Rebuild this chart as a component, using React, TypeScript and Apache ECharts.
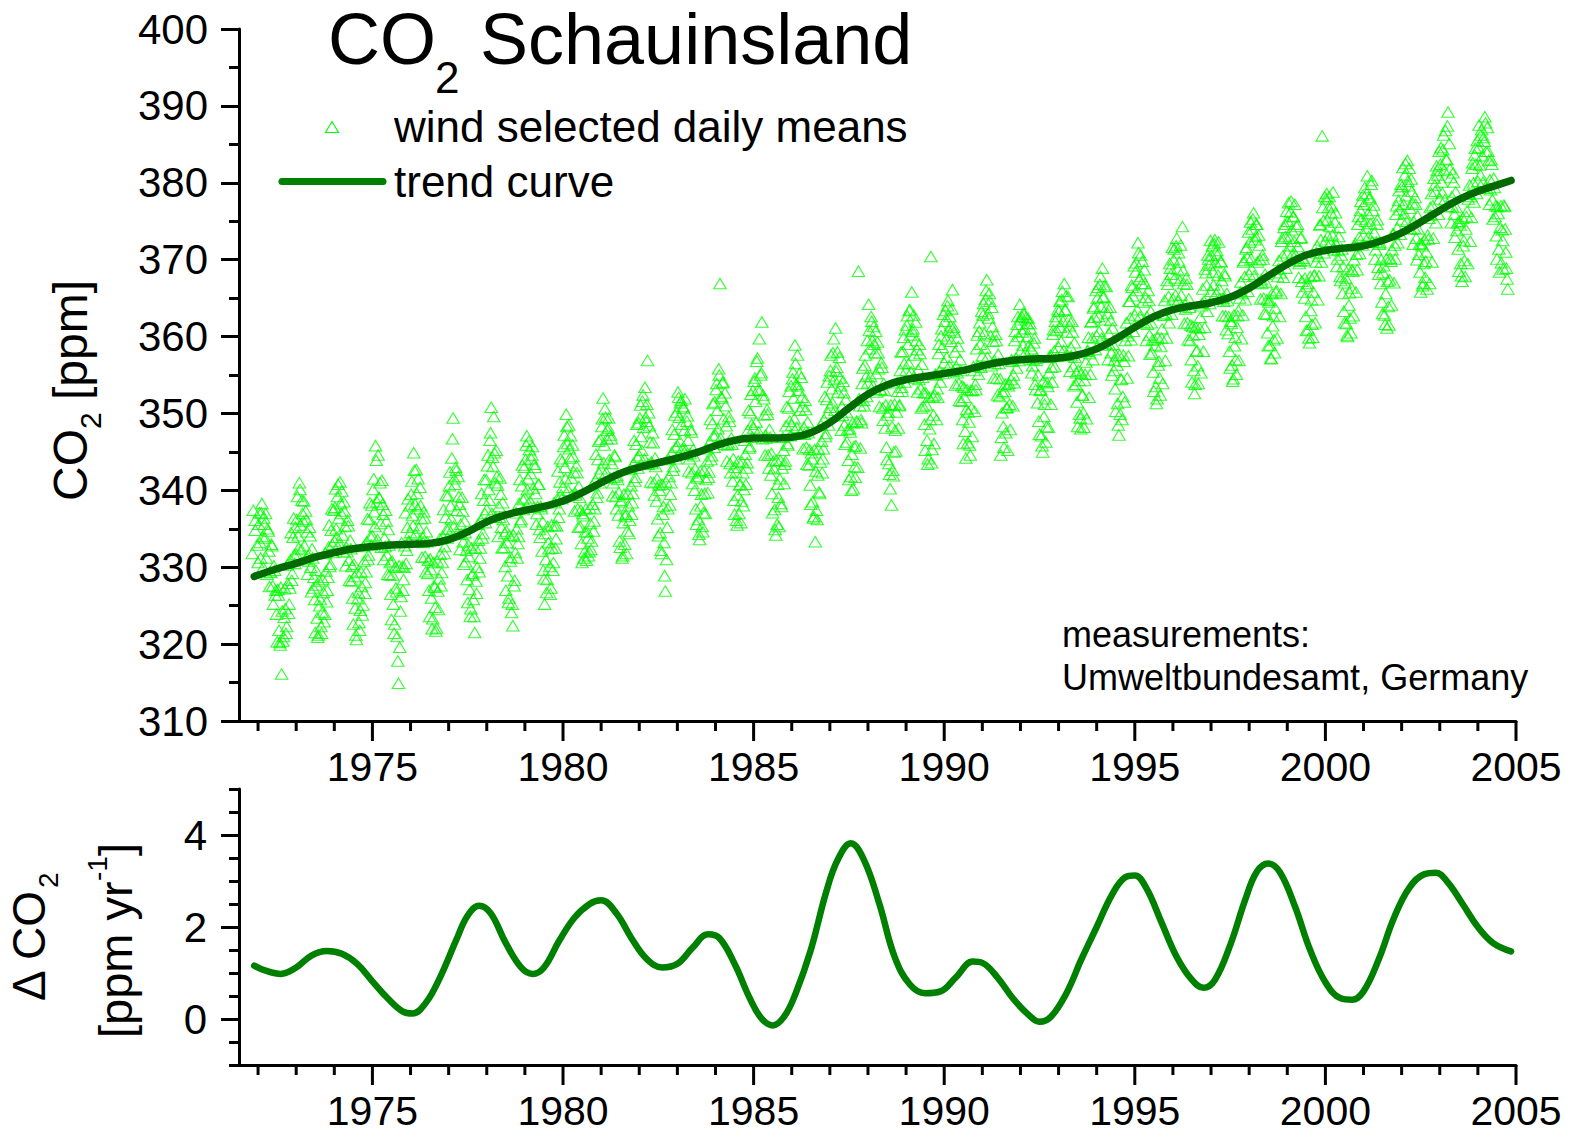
import { useEffect, useRef } from "react";
import * as echarts from "echarts";

const FONT = '"Liberation Sans", Arial, Helvetica, sans-serif';

// ---- axis ranges and tick values ----
const X_MIN = 1971.5;
const X_MAX = 2005;
const CO2_MIN = 310;
const CO2_MAX = 400;
const DELTA_MIN = -1;
const DELTA_MAX = 5;
const YEAR_LABELS = [1975, 1980, 1985, 1990, 1995, 2000, 2005];
const YEAR_MINOR = [
  1972, 1973, 1974, 1976, 1977, 1978, 1979, 1981, 1982, 1983, 1984, 1986, 1987, 1988, 1989,
  1991, 1992, 1993, 1994, 1996, 1997, 1998, 1999, 2001, 2002, 2003, 2004,
];
const DELTA_LABELS = [0, 2, 4];
const DELTA_MINOR = [-1, -0.5, 0.5, 1, 1.5, 2.5, 3, 3.5, 4.5, 5];

// ---- wind selected daily means [ppm], one row per calendar year ----
// first sampling pass
const MEANS_LATE_1971 = [337.4, 334.8, 332.9];

const MEANS_1972_1979 = [
  [335.6, 333.2, 337.1, 334.0, 336.4, 333.8, 331.2, 335.0, 332.1, 329.4, 333.0, 327.6, 330.2, 326.4, 323.9, 327.1, 321.8, 319.9, 316.1, 320.4, 323.5, 324.6, 322.3, 327.9, 325.2, 331.0, 328.3, 333.9, 331.6, 335.2],
  [336.2, 334.1, 341.0, 335.5, 338.7, 336.0, 332.8, 337.3, 334.6, 331.5, 335.2, 330.0, 332.4, 327.3, 325.8, 329.6, 323.4, 321.2, 325.0, 322.3, 324.1, 326.7, 323.9, 329.5, 327.0, 332.6, 330.1, 334.8, 333.0, 337.4],
  [337.8, 335.0, 339.2, 336.4, 341.1, 337.0, 334.2, 338.5, 335.3, 332.6, 336.1, 330.9, 333.5, 328.2, 326.0, 330.4, 324.7, 320.6, 325.9, 322.8, 324.4, 327.5, 325.1, 330.8, 328.0, 333.3, 331.0, 336.2, 334.0, 338.1],
  [340.1, 337.2, 345.8, 338.5, 344.6, 339.0, 335.7, 341.3, 336.9, 333.8, 337.4, 331.6, 334.9, 329.0, 326.5, 330.8, 325.2, 322.6, 327.3, 321.0, 314.9, 319.6, 326.2, 330.1, 328.4, 332.8, 330.5, 335.2, 333.4, 338.0],
  [339.5, 336.8, 344.9, 338.2, 342.7, 337.6, 335.1, 340.4, 336.3, 333.9, 337.2, 331.4, 334.6, 329.2, 327.0, 331.1, 326.0, 323.3, 327.6, 324.8, 322.1, 326.9, 328.5, 331.7, 329.3, 334.0, 331.8, 336.5, 334.9, 339.3],
  [340.6, 338.0, 344.2, 349.4, 341.5, 343.0, 337.4, 341.8, 338.2, 335.6, 339.1, 333.3, 336.0, 330.7, 328.4, 332.9, 327.1, 324.6, 329.0, 325.8, 321.5, 328.2, 330.0, 333.5, 331.2, 336.1, 333.8, 338.7, 337.0, 341.4],
  [343.2, 340.1, 346.5, 350.8, 344.3, 349.6, 341.0, 345.2, 340.7, 337.9, 341.6, 335.2, 338.4, 332.6, 330.1, 334.7, 328.9, 326.0, 330.8, 324.1, 322.4, 327.6, 331.9, 335.0, 333.1, 338.3, 335.9, 340.6, 338.8, 343.0],
  [344.0, 347.1, 341.5, 345.3, 342.2, 344.6, 340.3, 343.4, 339.6, 337.0, 340.8, 334.9, 337.9, 332.1, 329.6, 325.2, 331.0, 328.4, 333.2, 330.1, 327.3, 332.5, 330.6, 335.4, 333.7, 338.9, 336.5, 341.1, 339.4, 343.8],
];

const MEANS_1980_1989 = [
  [345.7, 343.0, 349.9, 346.1, 348.5, 344.2, 341.6, 345.9, 342.4, 339.7, 343.2, 337.6, 340.5, 335.3, 333.1, 337.0, 331.2, 334.6, 330.9, 333.8, 332.0, 335.7, 333.4, 338.2, 336.0, 341.3, 339.1, 344.0, 342.2, 346.6],
  [348.3, 352.0, 345.9, 349.5, 346.7, 348.1, 344.0, 347.2, 343.5, 341.0, 344.6, 339.2, 341.9, 336.8, 333.4, 338.5, 331.2, 335.8, 333.0, 336.9, 334.7, 338.0, 336.1, 340.6, 338.4, 343.5, 341.2, 346.0, 344.3, 348.8],
  [349.4, 347.0, 351.6, 348.2, 353.4, 349.0, 356.9, 350.1, 346.3, 343.7, 347.5, 341.0, 344.2, 338.6, 336.3, 340.7, 334.5, 331.8, 336.9, 333.2, 326.9, 331.0, 337.6, 341.8, 339.5, 344.9, 342.6, 347.3, 345.6, 350.2],
  [352.8, 349.5, 351.4, 348.6, 350.9, 347.8, 345.2, 349.0, 346.5, 344.1, 347.9, 342.3, 345.3, 340.0, 337.6, 341.8, 336.2, 333.6, 338.0, 335.3, 337.1, 339.6, 341.4, 343.8, 341.7, 346.3, 344.0, 348.7, 347.1, 351.5],
  [353.1, 350.4, 355.8, 366.9, 352.2, 354.0, 349.3, 352.7, 348.4, 345.9, 349.6, 343.5, 346.8, 341.2, 338.7, 343.0, 336.1, 339.4, 337.0, 340.8, 338.6, 342.3, 340.1, 344.7, 342.9, 347.8, 345.5, 350.1, 348.6, 353.0],
  [354.2, 351.6, 356.8, 353.1, 359.7, 355.0, 361.9, 352.4, 349.8, 347.2, 350.5, 344.6, 347.9, 342.0, 339.6, 343.8, 337.5, 334.2, 335.6, 339.1, 341.5, 338.3, 342.9, 345.2, 343.4, 348.4, 346.1, 350.7, 349.0, 353.6],
  [354.5, 352.0, 358.9, 353.8, 357.6, 353.0, 350.4, 354.7, 350.9, 348.2, 351.7, 345.6, 348.9, 343.3, 340.7, 344.9, 338.5, 336.6, 333.3, 337.4, 342.0, 339.8, 343.7, 346.4, 344.1, 349.2, 347.0, 351.8, 350.1, 354.9],
  [355.6, 353.2, 357.9, 354.4, 361.1, 356.0, 352.8, 357.3, 353.6, 350.9, 354.2, 348.5, 351.8, 346.3, 343.9, 348.0, 341.8, 344.7, 340.2, 343.1, 345.8, 348.9, 368.5, 351.0, 349.2, 353.9, 351.7, 356.3, 354.8, 359.5],
  [364.2, 358.4, 362.6, 359.5, 361.3, 357.9, 355.2, 359.3, 355.8, 353.1, 356.6, 350.7, 353.9, 348.1, 345.6, 349.8, 343.5, 340.2, 338.1, 342.6, 345.0, 347.8, 350.2, 352.9, 351.0, 355.6, 353.4, 358.1, 356.5, 360.9],
  [361.5, 359.0, 363.4, 360.2, 365.8, 361.0, 357.6, 361.9, 358.3, 355.7, 359.0, 353.2, 356.4, 350.9, 348.6, 352.7, 346.5, 344.1, 348.0, 370.4, 345.3, 349.8, 352.4, 355.0, 353.2, 357.8, 355.5, 360.1, 358.6, 362.9],
];

const MEANS_1990_1999 = [
  [362.0, 359.7, 364.0, 360.8, 362.6, 359.4, 366.1, 361.2, 358.0, 356.1, 359.8, 353.9, 357.0, 351.6, 349.2, 353.4, 347.7, 350.5, 346.2, 348.9, 344.6, 350.7, 353.0, 355.6, 353.8, 358.4, 356.2, 360.7, 359.0, 363.3],
  [362.8, 360.4, 364.9, 367.4, 363.0, 365.6, 360.1, 363.8, 359.4, 356.9, 360.3, 354.6, 357.7, 352.2, 344.6, 350.1, 348.3, 352.9, 347.5, 350.8, 353.6, 351.2, 354.4, 356.8, 355.0, 359.5, 357.2, 361.6, 360.0, 364.2],
  [362.2, 360.6, 363.1, 361.0, 362.5, 360.0, 358.8, 361.7, 358.4, 356.2, 359.2, 353.8, 356.9, 351.4, 349.0, 353.0, 347.1, 345.0, 349.6, 351.9, 348.3, 353.5, 355.3, 357.6, 356.0, 360.3, 358.1, 362.0, 360.8, 363.5],
  [363.3, 361.2, 364.8, 362.0, 366.9, 363.5, 360.6, 365.2, 361.4, 358.6, 362.0, 356.1, 359.2, 353.8, 351.5, 355.6, 349.9, 348.0, 352.4, 350.1, 354.3, 356.7, 358.1, 359.9, 357.8, 361.9, 359.8, 363.7, 362.5, 366.0],
  [365.0, 362.6, 366.8, 363.9, 368.9, 365.2, 362.2, 366.5, 363.0, 360.4, 363.8, 357.9, 361.1, 355.6, 353.2, 357.5, 351.3, 347.2, 349.9, 354.4, 352.2, 356.8, 359.5, 361.8, 360.1, 364.6, 362.4, 366.7, 365.3, 369.2],
  [368.4, 366.0, 372.2, 367.5, 370.6, 366.9, 364.5, 368.7, 365.1, 362.6, 366.0, 360.2, 363.3, 357.9, 355.4, 359.6, 353.5, 351.9, 356.3, 354.6, 358.7, 361.0, 362.8, 364.7, 363.0, 367.3, 365.2, 369.5, 368.1, 371.6],
  [370.0, 367.6, 371.8, 368.8, 370.9, 367.3, 365.4, 374.3, 366.9, 364.2, 367.6, 361.8, 364.9, 359.5, 357.0, 361.3, 355.6, 353.8, 358.1, 356.2, 360.3, 362.5, 364.0, 366.2, 364.6, 368.8, 366.7, 370.6, 369.3, 372.5],
  [370.5, 368.4, 372.1, 369.6, 371.2, 368.0, 366.2, 369.8, 367.3, 365.0, 368.2, 362.7, 365.6, 360.4, 358.1, 362.0, 356.3, 354.5, 358.8, 357.0, 361.2, 363.4, 365.0, 367.1, 365.6, 369.7, 367.8, 371.4, 370.3, 373.6],
  [372.3, 370.1, 374.0, 376.1, 372.6, 374.6, 369.7, 373.2, 370.0, 367.4, 370.6, 365.0, 368.1, 362.9, 360.5, 364.5, 358.9, 357.1, 361.4, 359.6, 363.7, 366.0, 367.8, 369.9, 368.3, 372.4, 370.5, 374.2, 373.0, 376.3],
  [375.0, 372.8, 376.2, 373.9, 375.6, 372.4, 370.6, 374.3, 371.7, 369.5, 372.8, 367.2, 370.2, 365.0, 362.6, 366.5, 360.9, 359.2, 363.4, 361.6, 365.8, 368.0, 369.7, 371.8, 370.4, 374.5, 372.6, 386.1, 375.1, 378.2],
];

const MEANS_2000_2003 = [
  [377.9, 375.2, 376.8, 374.3, 376.1, 373.2, 371.6, 374.9, 372.0, 370.1, 373.0, 367.8, 370.6, 365.6, 363.3, 367.0, 361.7, 360.0, 364.1, 362.4, 366.3, 368.5, 370.0, 372.1, 370.7, 374.6, 372.9, 376.4, 375.3, 378.4],
  [377.2, 375.0, 378.6, 376.0, 377.9, 374.7, 380.3, 376.4, 373.5, 371.3, 374.6, 369.0, 372.0, 366.9, 364.5, 368.3, 362.8, 365.6, 361.1, 363.9, 367.4, 369.8, 371.3, 373.4, 371.9, 375.9, 374.1, 377.7, 376.5, 379.8],
  [379.5, 377.2, 381.0, 378.3, 382.9, 379.6, 376.7, 380.5, 377.4, 375.0, 378.1, 372.8, 375.7, 370.7, 368.4, 372.1, 366.6, 369.5, 367.7, 371.0, 373.2, 375.4, 376.8, 378.6, 377.0, 380.6, 378.9, 382.2, 381.0, 384.1],
  [382.4, 380.1, 384.3, 381.6, 386.8, 383.0, 389.2, 385.1, 380.7, 378.2, 381.3, 375.9, 378.8, 373.8, 371.4, 375.0, 369.5, 367.2, 371.8, 369.9, 374.0, 376.3, 377.9, 379.7, 378.2, 381.9, 380.0, 383.6, 382.4, 385.5],
];

// January to mid-October 2004
const MEANS_2004 = [384.6, 382.3, 386.2, 383.5, 385.9, 388.6, 384.1, 387.2, 382.9, 380.4, 383.0, 377.8, 380.6, 375.6, 373.1, 376.9, 371.4, 374.2, 369.6, 372.5, 377.1, 374.0, 368.9, 366.2];

// second sampling pass, half a step later than the first
const LATER_LATE_1971 = [331.8, 336.1];

const LATER_1972_1979 = [
  [330.6, 337.1, 331.2, 338.3, 330.0, 335.6, 337.0, 329.1, 334.7, 327.5, 329.3, 332.8, 325.2, 329.6, 327.0, 320.3, 326.4, 320.2, 327.4, 324.3, 321.0, 327.2, 321.4, 330.3, 324.0, 327.3, 334.5, 329.2, 336.4, 330.5],
  [331.7, 339.2, 332.5, 340.1, 332.3, 337.0, 338.6, 331.0, 336.2, 329.1, 330.8, 334.1, 326.8, 331.2, 328.7, 321.5, 327.7, 320.9, 328.2, 325.8, 321.4, 328.4, 322.9, 331.8, 325.5, 328.7, 335.5, 330.4, 337.6, 331.9],
  [333.4, 340.2, 333.9, 340.8, 333.0, 338.3, 339.9, 332.0, 337.3, 330.2, 332.0, 335.4, 328.3, 332.4, 330.1, 322.6, 328.8, 321.2, 329.3, 326.7, 321.8, 329.4, 323.8, 332.7, 326.6, 329.4, 336.3, 331.6, 338.4, 332.9],
  [334.1, 341.5, 335.3, 343.9, 333.6, 339.1, 341.0, 332.6, 338.2, 331.0, 332.7, 336.0, 329.1, 332.9, 330.6, 323.2, 329.0, 321.4, 330.0, 326.8, 317.8, 330.2, 324.3, 333.2, 327.0, 330.0, 337.1, 332.2, 338.9, 333.3],
  [334.5, 341.2, 335.4, 342.6, 334.3, 339.6, 341.5, 333.4, 338.0, 331.3, 333.2, 336.4, 329.4, 333.3, 330.9, 323.6, 329.7, 322.0, 330.6, 327.4, 321.7, 330.8, 324.5, 333.7, 327.6, 330.6, 337.5, 332.7, 339.4, 333.8],
  [335.0, 342.4, 336.3, 346.7, 335.3, 340.8, 342.6, 334.4, 339.2, 332.3, 334.3, 337.3, 330.4, 334.5, 332.2, 325.4, 331.4, 323.6, 332.5, 329.2, 323.6, 332.5, 326.6, 335.6, 329.4, 332.5, 339.6, 334.4, 341.4, 335.8],
  [337.5, 344.6, 338.7, 347.5, 337.0, 343.1, 344.9, 336.5, 341.8, 334.0, 336.5, 339.5, 332.5, 336.2, 334.4, 327.0, 333.2, 325.4, 334.1, 331.3, 325.2, 334.2, 328.3, 337.1, 331.2, 334.0, 341.4, 336.2, 343.3, 337.5],
  [339.0, 345.9, 340.1, 346.4, 338.6, 344.1, 345.7, 337.8, 343.0, 335.6, 337.9, 340.8, 333.9, 337.6, 335.9, 328.5, 334.4, 326.7, 335.3, 332.4, 326.5, 335.5, 329.6, 338.4, 332.5, 335.4, 342.5, 337.6, 344.1, 338.9],
];

const LATER_1980_1989 = [
  [340.4, 347.2, 341.5, 348.3, 340.0, 345.4, 347.1, 339.4, 344.4, 337.3, 339.4, 342.3, 335.2, 339.1, 337.4, 330.6, 336.7, 332.0, 337.6, 334.6, 331.5, 337.7, 332.3, 340.6, 334.7, 337.6, 344.7, 339.7, 346.4, 341.0],
  [342.8, 349.3, 343.6, 350.6, 342.3, 347.8, 349.4, 341.6, 346.7, 339.3, 341.7, 344.4, 337.6, 341.4, 339.7, 332.6, 338.7, 331.5, 339.5, 336.6, 331.8, 339.6, 334.4, 342.7, 336.9, 339.6, 346.5, 341.7, 348.6, 342.9],
  [344.5, 351.1, 345.2, 352.4, 344.1, 349.5, 351.2, 343.4, 348.4, 341.1, 343.5, 346.2, 339.4, 343.1, 341.5, 334.1, 340.0, 332.2, 340.8, 337.9, 328.9, 341.1, 335.2, 344.0, 338.1, 341.0, 347.9, 343.1, 349.8, 344.1],
  [345.8, 352.1, 346.4, 351.7, 345.4, 350.7, 351.9, 344.7, 349.7, 342.5, 344.8, 347.6, 340.9, 344.5, 342.8, 335.6, 341.6, 334.3, 342.5, 339.5, 334.6, 342.6, 337.0, 345.4, 339.7, 342.4, 349.2, 344.5, 351.3, 345.6],
  [347.2, 353.9, 348.0, 355.0, 346.8, 352.0, 354.1, 346.0, 351.0, 343.8, 346.2, 349.0, 342.3, 346.0, 344.1, 336.9, 342.4, 335.5, 343.8, 340.7, 335.8, 343.7, 338.0, 346.5, 340.8, 343.6, 350.4, 345.7, 352.5, 346.9],
  [348.1, 354.6, 348.9, 357.2, 347.6, 353.0, 355.3, 346.7, 351.9, 344.6, 346.8, 349.9, 342.9, 346.9, 344.8, 337.1, 342.8, 334.9, 343.9, 340.8, 335.3, 343.9, 337.9, 346.9, 340.9, 343.8, 350.9, 345.9, 352.9, 347.1],
  [348.5, 355.4, 349.3, 356.5, 348.2, 353.6, 355.2, 347.4, 352.1, 345.4, 347.3, 350.5, 343.4, 347.5, 345.3, 338.2, 344.1, 336.4, 345.3, 342.5, 336.2, 345.4, 339.6, 348.5, 342.3, 345.4, 352.2, 347.4, 354.1, 348.5],
  [350.8, 357.6, 351.4, 359.7, 350.4, 355.5, 358.0, 349.7, 354.6, 347.8, 349.8, 352.7, 346.0, 350.2, 347.9, 341.4, 347.6, 340.0, 348.8, 345.7, 341.7, 349.0, 343.0, 351.9, 345.5, 348.8, 355.9, 351.0, 357.6, 352.2],
  [354.0, 360.8, 354.8, 362.0, 353.6, 359.0, 360.7, 352.8, 357.9, 350.9, 353.1, 356.0, 349.1, 353.0, 351.1, 344.0, 350.2, 342.1, 351.1, 348.3, 341.9, 351.2, 345.1, 354.0, 348.1, 351.1, 358.0, 352.9, 359.9, 354.1],
  [355.6, 362.7, 356.5, 363.5, 355.4, 360.7, 362.8, 354.6, 359.5, 352.8, 354.4, 357.8, 350.7, 354.7, 352.7, 345.2, 351.1, 343.4, 352.1, 349.2, 343.6, 352.2, 346.1, 355.1, 349.2, 352.1, 359.0, 354.1, 361.0, 355.2],
];

const LATER_1990_1999 = [
  [356.6, 363.4, 357.3, 364.7, 356.2, 361.4, 363.6, 355.5, 360.6, 353.7, 355.3, 358.7, 351.7, 355.6, 353.6, 346.1, 352.1, 344.2, 353.1, 350.2, 345.9, 353.0, 347.0, 356.1, 350.3, 353.1, 360.2, 355.1, 361.8, 356.0],
  [357.5, 364.3, 358.5, 366.0, 357.3, 362.4, 364.6, 356.2, 361.3, 354.6, 356.5, 359.5, 352.4, 356.5, 354.5, 346.9, 352.7, 345.6, 353.8, 350.7, 345.2, 353.9, 347.9, 357.0, 351.0, 354.0, 360.7, 355.9, 362.6, 356.9],
  [358.1, 362.6, 358.9, 362.9, 357.9, 361.7, 362.4, 357.1, 361.0, 355.3, 357.0, 359.8, 353.1, 357.2, 355.0, 347.3, 353.1, 345.8, 354.2, 351.2, 346.3, 354.0, 348.2, 357.3, 351.2, 354.1, 360.9, 356.1, 362.6, 357.4],
  [358.6, 364.6, 359.4, 365.9, 358.2, 363.5, 365.3, 357.6, 362.2, 355.5, 357.5, 360.6, 353.6, 357.3, 355.3, 348.3, 354.3, 349.4, 355.2, 352.4, 348.2, 355.1, 349.3, 358.2, 352.1, 355.1, 362.0, 357.0, 363.9, 358.3],
  [360.1, 366.4, 360.7, 367.8, 359.8, 365.1, 366.6, 359.1, 363.8, 357.0, 358.9, 362.1, 355.0, 359.0, 356.9, 350.3, 356.3, 348.5, 357.6, 354.5, 349.2, 357.6, 351.5, 360.5, 354.6, 357.5, 364.6, 359.6, 366.4, 360.7],
  [362.8, 369.6, 363.5, 370.9, 362.6, 367.8, 369.8, 361.8, 366.9, 359.5, 361.6, 364.7, 357.7, 361.8, 359.6, 352.9, 358.9, 351.3, 359.9, 356.8, 352.4, 359.8, 353.9, 362.8, 356.9, 359.8, 366.8, 361.8, 368.9, 362.9],
  [364.9, 371.4, 365.4, 372.8, 364.6, 369.7, 371.9, 363.9, 368.6, 361.7, 363.6, 366.8, 359.6, 363.8, 361.5, 354.1, 360.2, 352.6, 361.2, 358.2, 353.9, 361.1, 355.3, 364.3, 358.1, 361.2, 368.3, 363.3, 370.1, 364.3],
  [365.9, 371.8, 366.7, 372.6, 365.6, 370.6, 372.3, 364.9, 369.7, 362.7, 364.6, 367.9, 360.9, 364.7, 362.6, 355.9, 361.7, 354.2, 362.8, 359.9, 355.1, 362.7, 356.9, 365.8, 359.7, 362.8, 369.9, 364.8, 371.6, 365.9],
  [368.1, 374.9, 368.8, 375.3, 367.9, 373.0, 374.6, 367.0, 371.9, 364.9, 366.9, 370.1, 363.0, 367.1, 364.8, 358.8, 364.7, 357.2, 365.6, 362.7, 357.9, 365.8, 359.8, 368.8, 362.6, 365.6, 372.8, 367.7, 374.6, 368.9],
  [370.9, 377.4, 371.8, 377.6, 370.7, 375.6, 377.2, 369.9, 374.6, 367.7, 369.8, 372.9, 365.8, 369.9, 367.6, 360.8, 366.9, 359.8, 367.8, 364.8, 359.9, 367.9, 361.8, 370.9, 364.8, 367.9, 374.6, 369.7, 376.8, 370.9],
];

const LATER_2000_2003 = [
  [372.4, 378.6, 373.1, 378.2, 372.2, 377.0, 378.8, 371.3, 376.1, 369.1, 371.2, 374.2, 367.3, 371.4, 369.1, 361.8, 367.6, 360.2, 368.8, 365.7, 360.5, 368.7, 362.7, 371.8, 365.8, 368.7, 375.6, 370.8, 377.6, 371.9],
  [373.2, 379.4, 374.1, 380.9, 373.0, 378.1, 379.8, 372.3, 377.1, 370.1, 372.3, 375.2, 368.1, 372.2, 370.0, 363.0, 369.2, 361.6, 370.1, 367.2, 361.5, 370.2, 364.1, 373.3, 367.0, 370.1, 377.0, 372.2, 379.0, 373.3],
  [375.2, 382.0, 376.0, 382.5, 375.0, 380.2, 381.9, 374.0, 378.9, 372.0, 374.1, 377.2, 370.0, 374.0, 372.0, 365.8, 371.8, 366.9, 372.6, 369.8, 366.2, 372.7, 366.9, 375.8, 369.7, 372.8, 379.7, 374.8, 381.6, 375.9],
  [377.9, 384.6, 378.7, 386.2, 377.8, 383.1, 387.4, 376.9, 381.8, 374.8, 376.9, 380.1, 372.9, 376.8, 374.8, 368.5, 374.5, 367.9, 375.4, 372.5, 367.8, 375.6, 369.5, 378.5, 372.4, 375.5, 382.6, 377.5, 384.5, 378.6],
];

const LATER_2004 = [380.2, 387.5, 381.0, 386.9, 380.1, 385.4, 387.8, 379.3, 384.1, 377.2, 379.1, 382.4, 375.3, 379.4, 377.0, 370.1, 376.0, 368.4, 377.0, 373.9, 368.8, 376.9, 371.0, 367.5];

// ---- trend curve [ppm] ----
const TREND_YEARS = [
  1971.9, 1972.5, 1973, 1973.5, 1974, 1974.5, 1975, 1975.5, 1976, 1976.5, 1977, 1977.5, 1978, 1978.5,
  1979, 1979.5, 1980, 1980.5, 1981, 1981.5, 1982, 1982.5, 1983, 1983.5, 1984, 1984.5, 1985, 1985.5,
  1986, 1986.5, 1987, 1987.5, 1988, 1988.5, 1989, 1989.5, 1990, 1990.5, 1991, 1991.5, 1992, 1992.5,
  1993, 1993.5, 1994, 1994.5, 1995, 1995.5, 1996, 1996.5, 1997, 1997.5, 1998, 1998.5, 1999, 1999.5,
  2000, 2000.5, 2001, 2001.5, 2002, 2002.5, 2003, 2003.5, 2004, 2004.5, 2004.87,
];
const TREND_VALUES = [
  328.8, 329.8, 330.5, 331.3, 331.9, 332.4, 332.7, 332.9, 333.0, 333.1, 333.6, 334.6, 335.9, 336.8,
  337.4, 337.9, 338.6, 339.7, 341.0, 342.2, 343.0, 343.6, 344.2, 344.9, 345.8, 346.5, 346.8, 346.8,
  346.9, 347.5, 348.8, 350.7, 352.5, 353.7, 354.4, 354.8, 355.2, 355.6, 356.2, 356.7, 357.0, 357.1,
  357.2, 357.6, 358.4, 359.7, 361.2, 362.6, 363.5, 364.0, 364.4, 365.1, 366.3, 367.9, 369.4, 370.6,
  371.2, 371.5, 371.8, 372.5, 373.5, 374.9, 376.4, 377.8, 378.9, 379.7, 380.3,
];

// ---- growth rate of the trend [ppm/yr] ----
const DELTA_YEARS = [
  1971.9, 1972.2, 1972.6, 1973, 1973.4, 1973.8, 1974.2, 1974.6, 1975, 1975.4, 1975.8, 1976.05, 1976.4,
  1976.8, 1977.2, 1977.5, 1977.8, 1978.1, 1978.5, 1978.9, 1979.2, 1979.5, 1979.9, 1980.3, 1980.7, 1981,
  1981.4, 1981.8, 1982.2, 1982.6, 1983, 1983.4, 1983.8, 1984.1, 1984.5, 1984.9, 1985.2, 1985.5, 1985.8,
  1986.1, 1986.5, 1986.9, 1987.2, 1987.55, 1987.9, 1988.3, 1988.7, 1989.1, 1989.5, 1989.9, 1990.3,
  1990.75, 1991, 1991.4, 1991.8, 1992.2, 1992.5, 1992.8, 1993.2, 1993.6, 1994, 1994.4, 1994.75, 1995,
  1995.3, 1995.7, 1996.1, 1996.5, 1996.8, 1997.1, 1997.5, 1997.9, 1998.2, 1998.5, 1998.8, 1999.2,
  1999.6, 2000, 2000.4, 2000.7, 2001, 2001.4, 2001.8, 2002.2, 2002.6, 2002.9, 2003.2, 2003.6, 2004,
  2004.4, 2004.87,
];
const DELTA_VALUES = [
  1.16, 1.05, 0.98, 1.12, 1.38, 1.48, 1.42, 1.2, 0.82, 0.45, 0.16, 0.12, 0.35,
  0.95, 1.72, 2.25, 2.46, 2.3, 1.65, 1.12, 0.98, 1.12, 1.7, 2.2, 2.5, 2.58,
  2.3, 1.75, 1.3, 1.12, 1.2, 1.55, 1.84, 1.76, 1.2, 0.45, 0.02, -0.14, 0.05,
  0.55, 1.5, 2.75, 3.45, 3.82, 3.45, 2.5, 1.35, 0.75, 0.56, 0.6, 0.9,
  1.25, 1.22, 0.9, 0.45, 0.1, -0.06, 0.05, 0.55, 1.3, 2.0, 2.7, 3.08, 3.12,
  2.85, 2.1, 1.35, 0.85, 0.68, 0.85, 1.6, 2.6, 3.2, 3.38, 3.2, 2.45,
  1.5, 0.8, 0.45, 0.42, 0.6, 1.3, 2.2, 2.85, 3.15, 3.18, 2.98, 2.5, 2.0,
  1.65, 1.47,
];

type Block = { start: number; span: number; phase: number; values: number[] };

const yearBlocks = (firstYear: number, rows: number[][], phase: number): Block[] =>
  rows.map((values, k) => ({ start: firstYear + k, span: 1, phase, values }));

const BLOCKS: Block[] = [
  { start: 1971.85, span: 0.15, phase: 0.5, values: MEANS_LATE_1971 },
  ...yearBlocks(1972, MEANS_1972_1979, 0.5),
  ...yearBlocks(1980, MEANS_1980_1989, 0.5),
  ...yearBlocks(1990, MEANS_1990_1999, 0.5),
  ...yearBlocks(2000, MEANS_2000_2003, 0.5),
  { start: 2004, span: 0.8, phase: 0.5, values: MEANS_2004 },
  { start: 1971.85, span: 0.15, phase: 0, values: LATER_LATE_1971 },
  ...yearBlocks(1972, LATER_1972_1979, 0),
  ...yearBlocks(1980, LATER_1980_1989, 0),
  ...yearBlocks(1990, LATER_1990_1999, 0),
  ...yearBlocks(2000, LATER_2000_2003, 0),
  { start: 2004, span: 0.8, phase: 0, values: LATER_2004 },
];

// sample dates spread evenly over each block
const dailyPoints = BLOCKS.flatMap((b) =>
  b.values.map((v, i) => [b.start + ((i + b.phase) * b.span) / b.values.length, v])
);
const trendPoints = TREND_YEARS.map((t, i) => [t, TREND_VALUES[i]]);
const deltaPoints = DELTA_YEARS.map((t, i) => [t, DELTA_VALUES[i]]);

// year ticks (1 = labelled, 0 = unlabelled) for the two time axes
const yearTicks = [...YEAR_LABELS.map((y) => [y, 1]), ...YEAR_MINOR.map((y) => [y, 0])];

const BLACK = "#000000";
const AXIS_W = 3;

const timeAxis = (gridIndex: number) => ({
  type: "value",
  gridIndex,
  min: X_MIN,
  max: X_MAX,
  position: "bottom",
  axisLine: { show: true, onZero: false, lineStyle: { color: BLACK, width: AXIS_W } },
  axisTick: { show: false },
  axisLabel: {
    customValues: YEAR_LABELS,
    formatter: (v: number) => String(Math.round(v)),
    fontSize: 41,
    fontFamily: FONT,
    color: BLACK,
    margin: 25,
  },
  splitLine: { show: false },
});

// tick marks below a time axis, placed through the axis scale
const yearTickSeries = (axisIndex: number, yBase: number) => ({
  type: "custom",
  xAxisIndex: axisIndex,
  yAxisIndex: axisIndex,
  data: yearTicks,
  clip: false,
  silent: true,
  z: 5,
  renderItem: (_params: any, api: any) => {
    const p = api.coord([api.value(0), yBase]);
    const len = api.value(1) ? 20 : 10;
    return {
      type: "line",
      shape: { x1: p[0], y1: p[1], x2: p[0], y2: p[1] + len },
      style: { stroke: BLACK, lineWidth: AXIS_W },
    };
  },
});

const txt = (text: string, x: number, y: number, size: number) => ({
  type: "text",
  x,
  y,
  style: {
    text,
    font: `${size}px ${FONT}`,
    fill: BLACK,
    align: "left",
    verticalAlign: "middle",
    textAlign: "left",
    textVerticalAlign: "middle",
  },
});

// a text run that reads upwards, anchored at its start (bottom) point
const vertical = (x: number, y: number, children: any[]) => ({
  type: "group",
  x,
  y,
  rotation: Math.PI / 2,
  children,
});

export default function App() {
  const ref = useRef<HTMLDivElement>(null);

  useEffect(() => {
    if (!ref.current) return;
    const chart = echarts.init(ref.current, undefined, { renderer: "svg" });

    chart.setOption({
      animation: false,
      backgroundColor: "#ffffff",
      grid: [
        { left: 239, right: 58, top: 29, height: 692, containLabel: false, outerBoundsMode: "none" },
        { left: 239, right: 58, top: 789, height: 276, containLabel: false, outerBoundsMode: "none" },
      ],
      xAxis: [timeAxis(0), timeAxis(1)],
      yAxis: [
        {
          type: "value",
          gridIndex: 0,
          position: "left",
          min: CO2_MIN,
          max: CO2_MAX,
          interval: 10,
          axisLine: { show: true, onZero: false, lineStyle: { color: BLACK, width: AXIS_W } },
          axisTick: { show: true, length: 18, lineStyle: { color: BLACK, width: AXIS_W } },
          minorTick: { show: true, splitNumber: 2, length: 10, lineStyle: { color: BLACK, width: AXIS_W } },
          axisLabel: { fontSize: 42, fontFamily: FONT, color: BLACK, margin: 31 },
          splitLine: { show: false },
          minorSplitLine: { show: false },
        },
        {
          type: "value",
          gridIndex: 1,
          position: "left",
          min: DELTA_MIN,
          max: DELTA_MAX,
          axisLine: { show: true, onZero: false, lineStyle: { color: BLACK, width: AXIS_W } },
          axisTick: { show: true, length: 18, customValues: DELTA_LABELS, lineStyle: { color: BLACK, width: AXIS_W } },
          axisLabel: { customValues: DELTA_LABELS, fontSize: 42, fontFamily: FONT, color: BLACK, margin: 32 },
          splitLine: { show: false },
        },
        {
          type: "value",
          gridIndex: 1,
          position: "left",
          offset: 0,
          min: DELTA_MIN,
          max: DELTA_MAX,
          axisLine: { show: false, onZero: false },
          axisTick: { show: true, length: 10, customValues: DELTA_MINOR, lineStyle: { color: BLACK, width: AXIS_W } },
          axisLabel: { show: false },
          splitLine: { show: false },
        },
      ],
      series: [
        {
          name: "wind selected daily means",
          type: "scatter",
          xAxisIndex: 0,
          yAxisIndex: 0,
          data: dailyPoints,
          symbol: "triangle",
          symbolSize: [12.5, 10.5],
          itemStyle: { color: "rgba(0,0,0,0)", borderColor: "#00ff00", borderWidth: 1.1 },
          progressive: 0,
          large: false,
          silent: true,
          z: 2,
        },
        {
          name: "trend curve",
          type: "line",
          xAxisIndex: 0,
          yAxisIndex: 0,
          data: trendPoints,
          smooth: 0.4,
          showSymbol: false,
          lineStyle: { color: "#006a00", width: 7.5, cap: "round", join: "round" },
          silent: true,
          z: 3,
        },
        {
          name: "growth rate",
          type: "line",
          xAxisIndex: 1,
          yAxisIndex: 1,
          data: deltaPoints,
          smooth: 0.4,
          showSymbol: false,
          lineStyle: { color: "#008000", width: 6.5, cap: "round", join: "round" },
          silent: true,
          z: 3,
        },
        yearTickSeries(0, CO2_MIN),
        yearTickSeries(1, DELTA_MIN),
      ],
      graphic: {
        elements: [
          // title
          txt("CO", 328, 39, 72),
          txt("2", 435, 77, 44),
          txt("Schauinsland", 480, 39, 72),
          // legend
          {
            type: "polygon",
            shape: { points: [[325.5, 132.5], [338.5, 132.5], [332, 121.5]] },
            style: { fill: "none", stroke: "#00ff00", lineWidth: 1.1 },
          },
          txt("wind selected daily means", 394, 126.5, 44),
          {
            type: "line",
            shape: { x1: 282, y1: 181.5, x2: 383, y2: 181.5 },
            style: { stroke: "#008000", lineWidth: 7, lineCap: "round" },
          },
          txt("trend curve", 394, 181.5, 44),
          // source note
          txt("measurements:", 1062, 634, 36),
          txt("Umweltbundesamt, Germany", 1062, 677, 36),
          // axis titles
          vertical(70, 501, [txt("CO", 0, 0, 48), txt("2", 72, 20, 30), txt("[ppm]", 101, 0, 48)]),
          vertical(29, 1001, [txt("\u0394 CO", 0, 0, 46), txt("2", 113, 19, 28)]),
          vertical(115, 1038, [txt("[ppm yr", 0, 0, 47), txt("-1", 157, -18, 28), txt("]", 182, 0, 47)]),
        ],
      },
    });

    return () => chart.dispose();
  }, []);

  return (
    <div
      ref={ref}
      style={{ position: "fixed", left: 0, top: 0, width: 1574, height: 1136, background: "#ffffff" }}
    />
  );
}
